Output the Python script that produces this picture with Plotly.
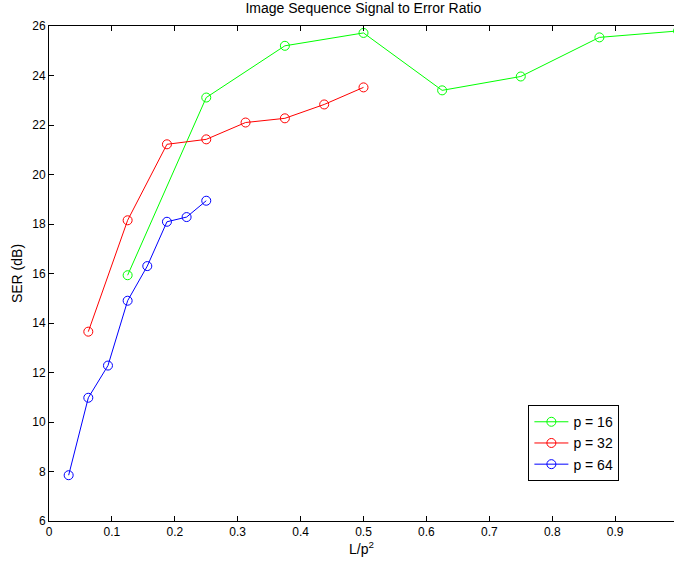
import plotly.graph_objects as go

x_p16 = [0.125, 0.25, 0.375, 0.5, 0.625, 0.75, 0.875, 1.0]
y_p16 = [15.93, 23.11, 25.2, 25.72, 23.4, 23.96, 25.54, 25.8]
x_p32 = [0.0625, 0.125, 0.1875, 0.25, 0.3125, 0.375, 0.4375, 0.5]
y_p32 = [13.65, 18.15, 21.22, 21.42, 22.1, 22.27, 22.83, 23.52]
x_p64 = [0.03125, 0.0625, 0.09375, 0.125, 0.15625, 0.1875, 0.21875, 0.25]
y_p64 = [7.85, 10.98, 12.28, 14.9, 16.3, 18.09, 18.28, 18.94]
names = ["p = 16", "p = 32", "p = 64"]
colors = ["#00ff00", "#ff0000", "#0000ff"]
x_ticks = [0, 0.1, 0.2, 0.3, 0.4, 0.5, 0.6, 0.7, 0.8, 0.9]
y_ticks = list(range(6, 27, 2))

fig = go.Figure()
for xs, ys, n, c in zip([x_p16, x_p32, x_p64], [y_p16, y_p32, y_p64], names, colors):
    fig.add_trace(go.Scatter(
        x=xs, y=ys, name=n, mode="lines+markers",
        line=dict(color=c, width=1),
        marker=dict(symbol="circle-open", size=9, color=c, line=dict(width=1, color=c)),
    ))

font = "Liberation Sans, Arial, Helvetica, sans-serif"
fig.update_layout(
    width=674, height=569,
    margin=dict(l=49, r=0, t=26, b=48),
    paper_bgcolor="white", plot_bgcolor="white",
    font=dict(family=font, size=12, color="black"),
    title=dict(text="Image Sequence Signal to Error Ratio", x=0.503, xref="paper",
               xanchor="center", y=0.995, yanchor="top", font=dict(size=14)),
    showlegend=True,
    legend=dict(x=0.767, y=0.234, xanchor="left", yanchor="top",
                bordercolor="black", borderwidth=1, bgcolor="white",
                font=dict(size=14), tracegroupgap=0, itemwidth=34),
)
fig.update_xaxes(
    range=[0, 0.9936], tickvals=x_ticks, ticktext=[str(t) for t in x_ticks],
    ticks="inside", ticklen=5, tickcolor="black", showline=True, linecolor="black",
    linewidth=1, mirror="ticks", showgrid=False, zeroline=False,
    title=dict(text="L/p<sup>2</sup>", standoff=4),
)
fig.update_yaxes(
    range=[6, 26], tickvals=y_ticks,
    ticks="inside", ticklen=5, tickcolor="black", showline=True, linecolor="black",
    linewidth=1, showgrid=False, zeroline=False,
    title=dict(text="SER (dB)", standoff=6),
)
fig.write_html(
    "out.html",
    config={"displayModeBar": False},
    post_script="document.body.style.margin='0';document.body.style.overflow='hidden';",
)
